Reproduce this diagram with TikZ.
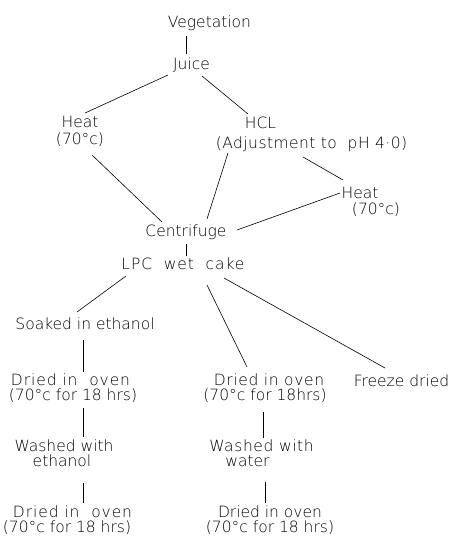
\documentclass[tikz,border=0pt]{standalone}
\usepackage{fontspec}
\IfFontExistsTF{DejaVu Sans ExtraLight}{\setmainfont{DejaVu Sans ExtraLight}}{\setmainfont{DejaVu Sans}}
\newcommand\lsp[2]{{\addfontfeature{LetterSpace=#1}#2}}
\begin{document}
\begin{tikzpicture}[x=1pt,y=-1pt,
  lbl/.style={inner sep=0pt, align=center, font=\fontsize{15.5}{15}\selectfont},
  conn/.style={line width=0.6pt, black}]
\useasboundingbox (0,0) rectangle (451,541);
\fill[white] (0,0) rectangle (451,541);
% nodes
\node[lbl] (veg) at (209.5,23) {Vegetation};
\node[lbl] (juice) at (191.5,65) {Juice};
\node[lbl, font=\fontsize{15.5}{17}\selectfont] (heatL) at (80,131.5) {Heat\\(70°c)};
\node[lbl, font=\fontsize{15.5}{20}\selectfont] (hcl) at (311.5,134) {HCL\hspace*{102pt}\\\lsp{3}{(Adjustment to\ \ pH 4·0)}};
\node[lbl, font=\fontsize{15.5}{16}\selectfont] (heatR) at (368,202) {Heat\hspace*{16pt}\\\hspace*{16pt}(70°c)};
\node[lbl] (centr) at (186,232) {Centrifuge};
\node[lbl] (lpc) at (183,264) {\lsp{6}{LPC\ \ wet\ \ cake}};
\node[lbl] (soaked) at (85,324) {Soaked in ethanol};
\node[lbl] (dried1) at (73,388.5) {\lsp{6}{Dried in\ \ oven}\hspace*{5pt}\\(70°c for 18 hrs)};
\node[lbl] (washed1) at (64,453.5) {Washed with\\ethanol\hspace*{4pt}};
\node[lbl] (dried1b) at (67,520.5) {\hspace*{11pt}\lsp{6}{Dried in\ \ oven}\\(70°c for 18 hrs)};
\node[lbl] (dried2) at (265,388.5) {\hspace*{8pt}\lsp{4}{Dried in oven}\\(70°c for 18hrs)};
\node[lbl] (washed2) at (261.5,453.5) {\lsp{4}{Washed with}\\water\hspace*{28pt}};
\node[lbl] (dried2b) at (270,520.5) {Dried in oven\\(70°c for 18 hrs)};
\node[lbl] (freeze) at (401.5,381) {Freeze dried};
% connectors
\draw[conn] ([shift={(-23.5,13)}]veg.center) -- ([shift={(-5.5,-11)}]juice.center);
\draw[conn] ([shift={(-23.5,10)}]juice.center) -- ([shift={(5,-18.5)}]heatL.center);
\draw[conn] ([shift={(10.5,11)}]juice.center) -- ([shift={(-63.5,-20)}]hcl.center);
\draw[conn] ([shift={(12,23.5)}]heatL.center) -- ([shift={(-24,-10)}]centr.center);
\draw[conn] ([shift={(-83.5,19)}]hcl.center) -- ([shift={(21,-13)}]centr.center);
\draw[conn] ([shift={(-8.5,23)}]hcl.center) -- ([shift={(-25,-22)}]heatR.center);
\draw[conn] ([shift={(-28,-9)}]heatR.center) -- ([shift={(51,-2)}]centr.center);
\draw[conn] ([shift={(0,12)}]centr.center) -- ([shift={(3,-8)}]lpc.center);
\draw[conn] ([shift={(-57,12)}]lpc.center) -- ([shift={(-8,-12)}]soaked.center);
\draw[conn] ([shift={(24,21)}]lpc.center) -- ([shift={(-18,-21.5)}]dried2.center);
\draw[conn] ([shift={(41,14)}]lpc.center) -- ([shift={(-16.5,-13)}]freeze.center);
\draw[conn] ([shift={(-2,16)}]soaked.center) -- ([shift={(10,-16.5)}]dried1.center);
\draw[conn] ([shift={(10,19.5)}]dried1.center) -- ([shift={(19,-16.5)}]washed1.center);
\draw[conn] ([shift={(19,29.5)}]washed1.center) -- ([shift={(16,-17.5)}]dried1b.center);
\draw[conn] ([shift={(-2,23.5)}]dried2.center) -- ([shift={(1.5,-15.5)}]washed2.center);
\draw[conn] ([shift={(3.5,28.5)}]washed2.center) -- ([shift={(-5,-17.5)}]dried2b.center);
\end{tikzpicture}
\end{document}
